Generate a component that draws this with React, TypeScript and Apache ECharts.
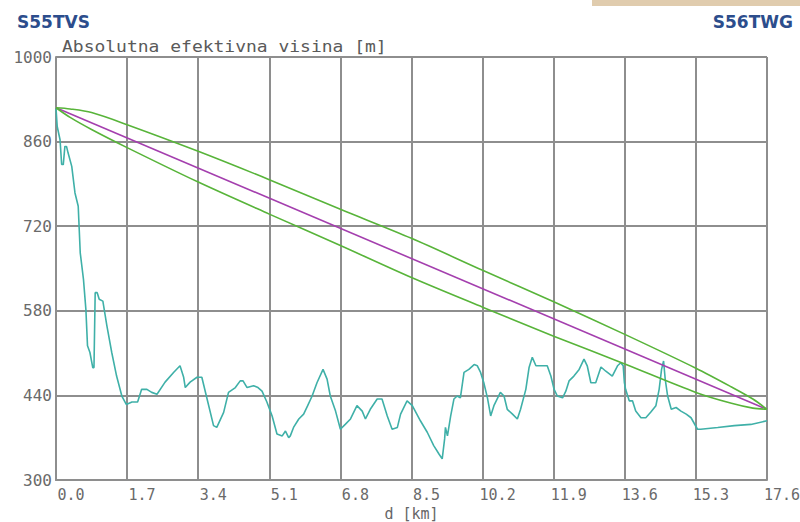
import React, { useEffect, useRef } from "react";
import * as echarts from "echarts";

const X_LABELS = ["0.0", "1.7", "3.4", "5.1", "6.8", "8.5", "10.2", "11.9", "13.6", "15.3", "17.6"];
const Y_LABELS = ["300", "440", "580", "720", "860", "1000"];
const X_STEP = 1.76;
const X_MAX = 17.6;
const Y_BASE = 300;
const Y_STEP = 140;
const Y_TOP = 1000;

const TITLE = "Absolutna efektivna visina [m]";
const X_NAME = "d [km]";
const SITE_A = "S55TVS";
const SITE_B = "S56TWG";

// terrain profile [km, m]
const TERRAIN: [number, number][] = [
  [0, 915], [0.03, 885], [0.1, 863], [0.14, 822], [0.18, 822], [0.22, 852], [0.26, 852], [0.3, 841],
  [0.39, 819], [0.47, 775], [0.55, 753], [0.6, 676], [0.68, 632], [0.74, 582], [0.78, 522], [0.84, 511],
  [0.91, 486], [0.94, 486], [0.97, 610], [1.02, 610], [1.07, 599], [1.16, 596], [1.26, 555], [1.38, 511],
  [1.5, 472], [1.63, 439], [1.74, 425], [1.88, 429], [2.02, 429], [2.12, 450], [2.25, 450], [2.37, 445],
  [2.5, 442], [2.7, 462], [2.91, 478], [3.07, 489], [3.16, 470], [3.2, 453], [3.32, 462], [3.49, 470],
  [3.61, 470], [3.74, 434], [3.9, 390], [3.98, 387], [4.15, 412], [4.27, 445], [4.44, 453], [4.56, 464],
  [4.63, 464], [4.73, 453], [4.89, 456], [5.0, 453], [5.1, 447], [5.22, 429], [5.35, 406], [5.47, 376],
  [5.6, 373], [5.68, 381], [5.76, 370], [5.8, 373], [5.88, 387], [6.01, 401], [6.13, 409], [6.23, 423],
  [6.34, 439], [6.46, 461], [6.61, 483], [6.71, 467], [6.79, 439], [6.92, 414], [7.04, 384], [7.16, 392],
  [7.29, 401], [7.45, 423], [7.58, 414], [7.66, 401], [7.78, 417], [7.95, 434], [8.07, 434], [8.2, 406],
  [8.32, 384], [8.45, 387], [8.53, 409], [8.69, 431], [8.82, 423], [9.02, 398], [9.19, 379], [9.35, 357],
  [9.48, 343], [9.56, 335], [9.62, 368], [9.64, 387], [9.69, 373], [9.77, 406], [9.85, 434], [9.93, 439],
  [10.01, 436], [10.1, 478], [10.22, 483], [10.35, 491], [10.43, 489], [10.51, 478], [10.59, 461], [10.68, 436],
  [10.76, 406], [10.84, 423], [11.0, 445], [11.09, 439], [11.17, 417], [11.3, 409], [11.42, 401], [11.5, 417],
  [11.63, 450], [11.71, 486], [11.79, 503], [11.88, 489], [12.04, 489], [12.16, 489], [12.25, 472], [12.33, 450],
  [12.41, 439], [12.54, 436], [12.62, 447], [12.7, 464], [12.82, 472], [12.95, 483], [13.07, 500], [13.15, 489],
  [13.24, 461], [13.36, 461], [13.49, 487], [13.61, 480], [13.77, 472], [13.9, 489], [13.98, 494], [14.04, 489],
  [14.07, 461], [14.1, 450], [14.19, 431], [14.27, 431], [14.35, 414], [14.48, 403], [14.6, 403], [14.72, 412],
  [14.85, 423], [14.93, 450], [14.99, 483], [15.04, 497], [15.08, 467], [15.14, 439], [15.23, 417], [15.35, 420],
  [15.47, 414], [15.6, 409], [15.72, 403], [15.88, 384], [15.96, 384], [16.38, 387], [16.79, 390], [17.2, 392],
  [17.6, 398],
];

// direct line of sight
const LOS_KM = [0, 17.6];
const LOS_M = [916, 417];

// Fresnel zone boundaries
const FRESNEL_KM = [0, 0.35, 0.88, 1.76, 3.52, 5.28, 7.04, 8.8, 10.56, 12.32, 14.08, 15.84, 16.72, 17.25, 17.6];
const FRESNEL_UPPER = [916, 914, 908, 888, 844, 797, 748, 700, 647, 595, 541, 485, 454, 434, 417];
const FRESNEL_LOWER = [916, 900, 880, 850, 793, 740, 688, 635, 586, 538, 492, 445, 427, 419, 417];

const MONO = "'DejaVu Sans Mono', 'Liberation Mono', monospace";
const GRID_COLOR = "#8e8e8e";

export default function App() {
  const ref = useRef<HTMLDivElement>(null);
  useEffect(() => {
    if (!ref.current) return;
    const chart = echarts.init(ref.current, undefined, { renderer: "svg" });
    const toY = (m: number) => m - Y_BASE;
    const lineStyle = (color: string) => ({ color, width: 1.6 });
    chart.setOption({
      animation: false,
      backgroundColor: "#ffffff",
      grid: { left: 56, right: 33, top: 57, bottom: 42, containLabel: false, outerBoundsMode: "none" },
      xAxis: {
        type: "value",
        min: 0,
        max: X_MAX,
        interval: X_STEP,
        name: X_NAME,
        nameLocation: "middle",
        nameGap: 26,
        nameTextStyle: { fontFamily: MONO, fontSize: 15, color: "#666666" },
        axisLine: { show: true, lineStyle: { color: GRID_COLOR, width: 2 } },
        axisTick: { show: false },
        splitLine: { show: true, lineStyle: { color: GRID_COLOR, width: 2 } },
        axisLabel: {
          interval: 0,
          showMinLabel: true,
          showMaxLabel: true,
          hideOverlap: false,
          margin: 7,
          align: "center",
          padding: [0, 0, 0, 30],
          fontFamily: MONO,
          fontSize: 15,
          color: "#6a6a6a",
          formatter: (v: number) => X_LABELS[Math.round(v / X_STEP)] ?? "",
        },
      },
      yAxis: {
        type: "value",
        min: 0,
        max: Y_TOP - Y_BASE,
        interval: Y_STEP,
        axisLine: { show: true, lineStyle: { color: GRID_COLOR, width: 2 } },
        axisTick: { show: false },
        splitLine: { show: true, lineStyle: { color: GRID_COLOR, width: 2 } },
        axisLabel: {
          margin: 4,
          fontFamily: MONO,
          fontSize: 16,
          color: "#6a6a6a",
          showMinLabel: true,
          showMaxLabel: true,
          formatter: (v: number) => Y_LABELS[Math.round(v / Y_STEP)] ?? "",
        },
      },
      graphic: [
        { type: "rect", left: 592, top: 0, shape: { width: 208, height: 6 }, style: { fill: "#e0ccae" } },
        {
          type: "text", left: 17, top: 13,
          style: { text: SITE_A, fontFamily: "'DejaVu Sans', sans-serif", fontWeight: "bold", fontSize: 17, fill: "#2c4d8c" },
        },
        {
          type: "text", right: 7, top: 13,
          style: { text: SITE_B, fontFamily: "'DejaVu Sans', sans-serif", fontWeight: "bold", fontSize: 17, fill: "#2c4d8c" },
        },
        {
          type: "text", x: 62, y: 40, scaleX: 1.2,
          style: { text: TITLE, fontFamily: MONO, fontSize: 15, fill: "#5a5a5a" },
        },
      ],
      series: [
        {
          type: "line",
          name: "teren",
          data: TERRAIN.map(([k, m]) => [k, toY(m)]),
          showSymbol: false,
          lineStyle: lineStyle("#3fb0a8"),
          z: 2,
        },
        {
          type: "line",
          name: "los",
          data: LOS_KM.map((k, i) => [k, toY(LOS_M[i])]),
          showSymbol: false,
          lineStyle: lineStyle("#a43fae"),
          z: 3,
        },
        {
          type: "line",
          name: "fresnel-upper",
          data: FRESNEL_KM.map((k, i) => [k, toY(FRESNEL_UPPER[i])]),
          showSymbol: false,
          smooth: 0.3,
          lineStyle: lineStyle("#58b43a"),
          z: 3,
        },
        {
          type: "line",
          name: "fresnel-lower",
          data: FRESNEL_KM.map((k, i) => [k, toY(FRESNEL_LOWER[i])]),
          showSymbol: false,
          smooth: 0.3,
          lineStyle: lineStyle("#58b43a"),
          z: 3,
        },
      ],
    });
    return () => chart.dispose();
  }, []);
  return (
    <div
      ref={ref}
      style={{ position: "fixed", left: 0, top: 0, width: 800, height: 522, background: "#fff" }}
    />
  );
}
